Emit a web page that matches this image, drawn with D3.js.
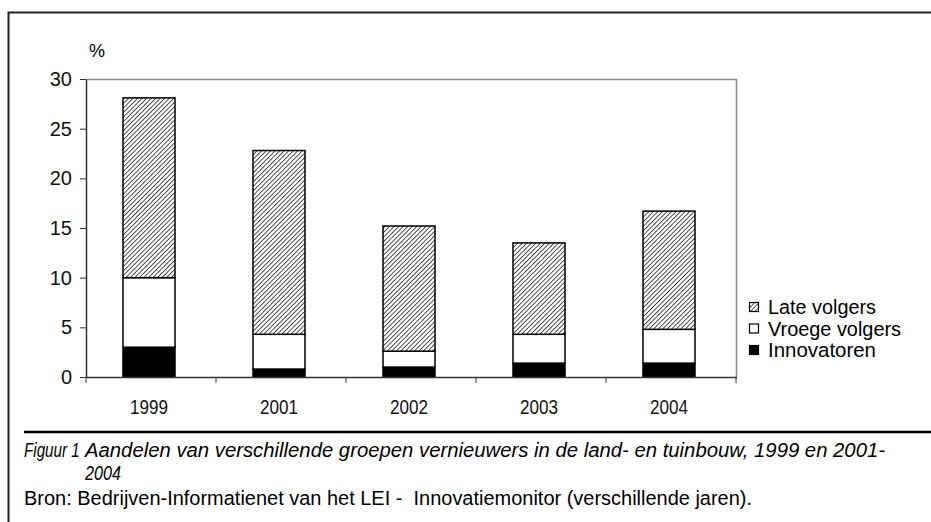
<!DOCTYPE html>
<html>
<head>
<meta charset="utf-8">
<script src="https://cdn.jsdelivr.net/npm/d3@7"></script>
<style>
  body { margin: 0; background: #fff; }
  svg { display: block; font-family: "Liberation Sans Narrow", "Arial Narrow", "Liberation Sans", sans-serif; }
</style>
</head>
<body>
<div id="chart"></div>
<script>
// data
const years = ["1999", "2001", "2002", "2003", "2004"];
const innovatoren = [3.0, 0.8, 1.0, 1.4, 1.4];
const vroegeVolgers = [7.0, 3.5, 1.6, 2.9, 3.4];
const lateVolgers = [18.1, 18.5, 12.6, 9.2, 11.9];
const yTicks = [0, 5, 10, 15, 20, 25, 30];
const seriesNames = ["Innovatoren", "Vroege volgers", "Late volgers"];

const W = 931, H = 522;
const margin = { top: 79, right: 195, bottom: 145, left: 86 };

const svg = d3.select("#chart").append("svg")
  .attr("width", W)
  .attr("height", H);

// hatch pattern for the late followers
const defs = svg.append("defs");
const pat = defs.append("pattern")
  .attr("id", "hatch")
  .attr("patternUnits", "userSpaceOnUse")
  .attr("width", 3.2)
  .attr("height", 3.2)
  .attr("patternTransform", "rotate(45)");
pat.append("rect").attr("width", 3.2).attr("height", 3.2).attr("fill", "#fff");
pat.append("line")
  .attr("x1", 0).attr("y1", 0).attr("x2", 0).attr("y2", 3.2)
  .attr("stroke", "#333")
  .attr("stroke-width", 1.7);

// outer frame (left + top)
svg.append("path")
  .attr("d", `M8.5,${H} V12.5 H${W}`)
  .attr("fill", "none")
  .attr("stroke", "#222")
  .attr("stroke-width", 2);

const x = d3.scaleBand()
  .domain(years)
  .range([margin.left, W - margin.right])
  .paddingInner(0.6)
  .paddingOuter(0.3);

const y = d3.scaleLinear()
  .domain([0, 30])
  .range([H - margin.bottom, margin.top]);

const rows = years.map((yr, i) => ({
  year: yr,
  Innovatoren: innovatoren[i],
  "Vroege volgers": vroegeVolgers[i],
  "Late volgers": lateVolgers[i]
}));
const stacked = d3.stack().keys(seriesNames)(rows);
const fills = { "Innovatoren": "#000", "Vroege volgers": "#fff", "Late volgers": "url(#hatch)" };

// plot area frame (top + right, grey)
svg.append("path")
  .attr("d", `M${x.range()[0]},${y(30) + 0.5} H${x.range()[1] + 0.5} V${y(0)}`)
  .attr("fill", "none")
  .attr("stroke", "#888")
  .attr("stroke-width", 1.5);

// bars
svg.append("g").selectAll("g")
  .data(stacked)
  .join("g")
  .attr("fill", d => fills[d.key])
  .selectAll("rect")
  .data(d => d)
  .join("rect")
  .attr("x", d => x(d.data.year) - 2)
  .attr("y", d => y(d[1]))
  .attr("width", x.bandwidth())
  .attr("height", d => y(d[0]) - y(d[1]))
  .attr("stroke", "#000")
  .attr("stroke-width", 1.5);

// y axis
const yAxis = svg.append("g")
  .attr("transform", `translate(${x.range()[0]},0)`)
  .call(d3.axisLeft(y).tickValues(yTicks).tickSize(6).tickSizeOuter(0).tickPadding(8));
yAxis.select(".domain").attr("stroke", "#333").attr("stroke-width", 1.5);
yAxis.selectAll(".tick line").attr("stroke", "#333");
yAxis.selectAll("text").attr("font-size", 20).attr("fill", "#111");

// x axis with ticks at the category boundaries
const step = x.step();
const bounds = d3.range(years.length + 1).map(i => x.range()[0] + i * step);
const xg = svg.append("g");
xg.append("line")
  .attr("x1", x.range()[0]).attr("x2", x.range()[1] + 1)
  .attr("y1", y(0) + 0.5).attr("y2", y(0) + 0.5)
  .attr("stroke", "#333").attr("stroke-width", 1.5);
xg.selectAll(".xt")
  .data(bounds)
  .join("line")
  .attr("class", "xt")
  .attr("x1", d => d).attr("x2", d => d)
  .attr("y1", y(0)).attr("y2", y(0) + 6)
  .attr("stroke", "#333");
xg.selectAll(".xl")
  .data(years)
  .join("text")
  .attr("class", "xl")
  .attr("x", d => x(d) + x.bandwidth() / 2 - 2)
  .attr("y", y(0) + 37)
  .attr("text-anchor", "middle")
  .attr("font-size", 20)
  .attr("fill", "#111")
  .attr("textLength", 38)
  .attr("lengthAdjust", "spacingAndGlyphs")
  .text(d => d);

// unit label
svg.append("text")
  .attr("x", 97)
  .attr("y", 57)
  .attr("text-anchor", "middle")
  .attr("font-size", 18)
  .text("%");

// legend
const legend = svg.append("g").attr("transform", "translate(749,0)");
const legendItems = ["Late volgers", "Vroege volgers", "Innovatoren"];
const legendWidths = [108, 133, 108];
legendItems.forEach((name, i) => {
  const cy = 307 + i * 21.5;
  legend.append("rect")
    .attr("x", 0.5).attr("y", cy - 4.5)
    .attr("width", 9).attr("height", 9)
    .attr("fill", fills[name])
    .attr("stroke", "#000").attr("stroke-width", 1.2);
  legend.append("text")
    .attr("x", 19)
    .attr("y", cy + 7)
    .attr("font-size", 20)
    .attr("textLength", legendWidths[i])
    .attr("lengthAdjust", "spacingAndGlyphs")
    .text(name);
});

// caption rule
svg.append("line")
  .attr("x1", 24).attr("x2", W)
  .attr("y1", 432).attr("y2", 432)
  .attr("stroke", "#000").attr("stroke-width", 2.5);

// figure number, squeezed horizontally like the narrow original
svg.append("text")
  .attr("transform", "translate(24,457) scale(0.76,1)")
  .attr("font-size", 20)
  .attr("font-style", "italic")
  .text("Figuur 1");

const caption = [
  { t: "Aandelen van verschillende groepen vernieuwers in de land- en tuinbouw, 1999 en 2001-", x: 85, y: 457, w: 800, it: true },
  { t: "2004", x: 85, y: 480, w: 36, it: true },
  { t: "Bron: Bedrijven-Informatienet van het LEI -  Innovatiemonitor (verschillende jaren).", x: 24, y: 505, w: 728, it: false }
];
svg.selectAll(".cap")
  .data(caption)
  .join("text")
  .attr("class", "cap")
  .attr("x", d => d.x)
  .attr("y", d => d.y)
  .attr("font-size", 20)
  .attr("font-style", d => d.it ? "italic" : "normal")
  .attr("textLength", d => d.w)
  .attr("lengthAdjust", "spacingAndGlyphs")
  .attr("xml:space", "preserve")
  .text(d => d.t);
</script>
</body>
</html>
